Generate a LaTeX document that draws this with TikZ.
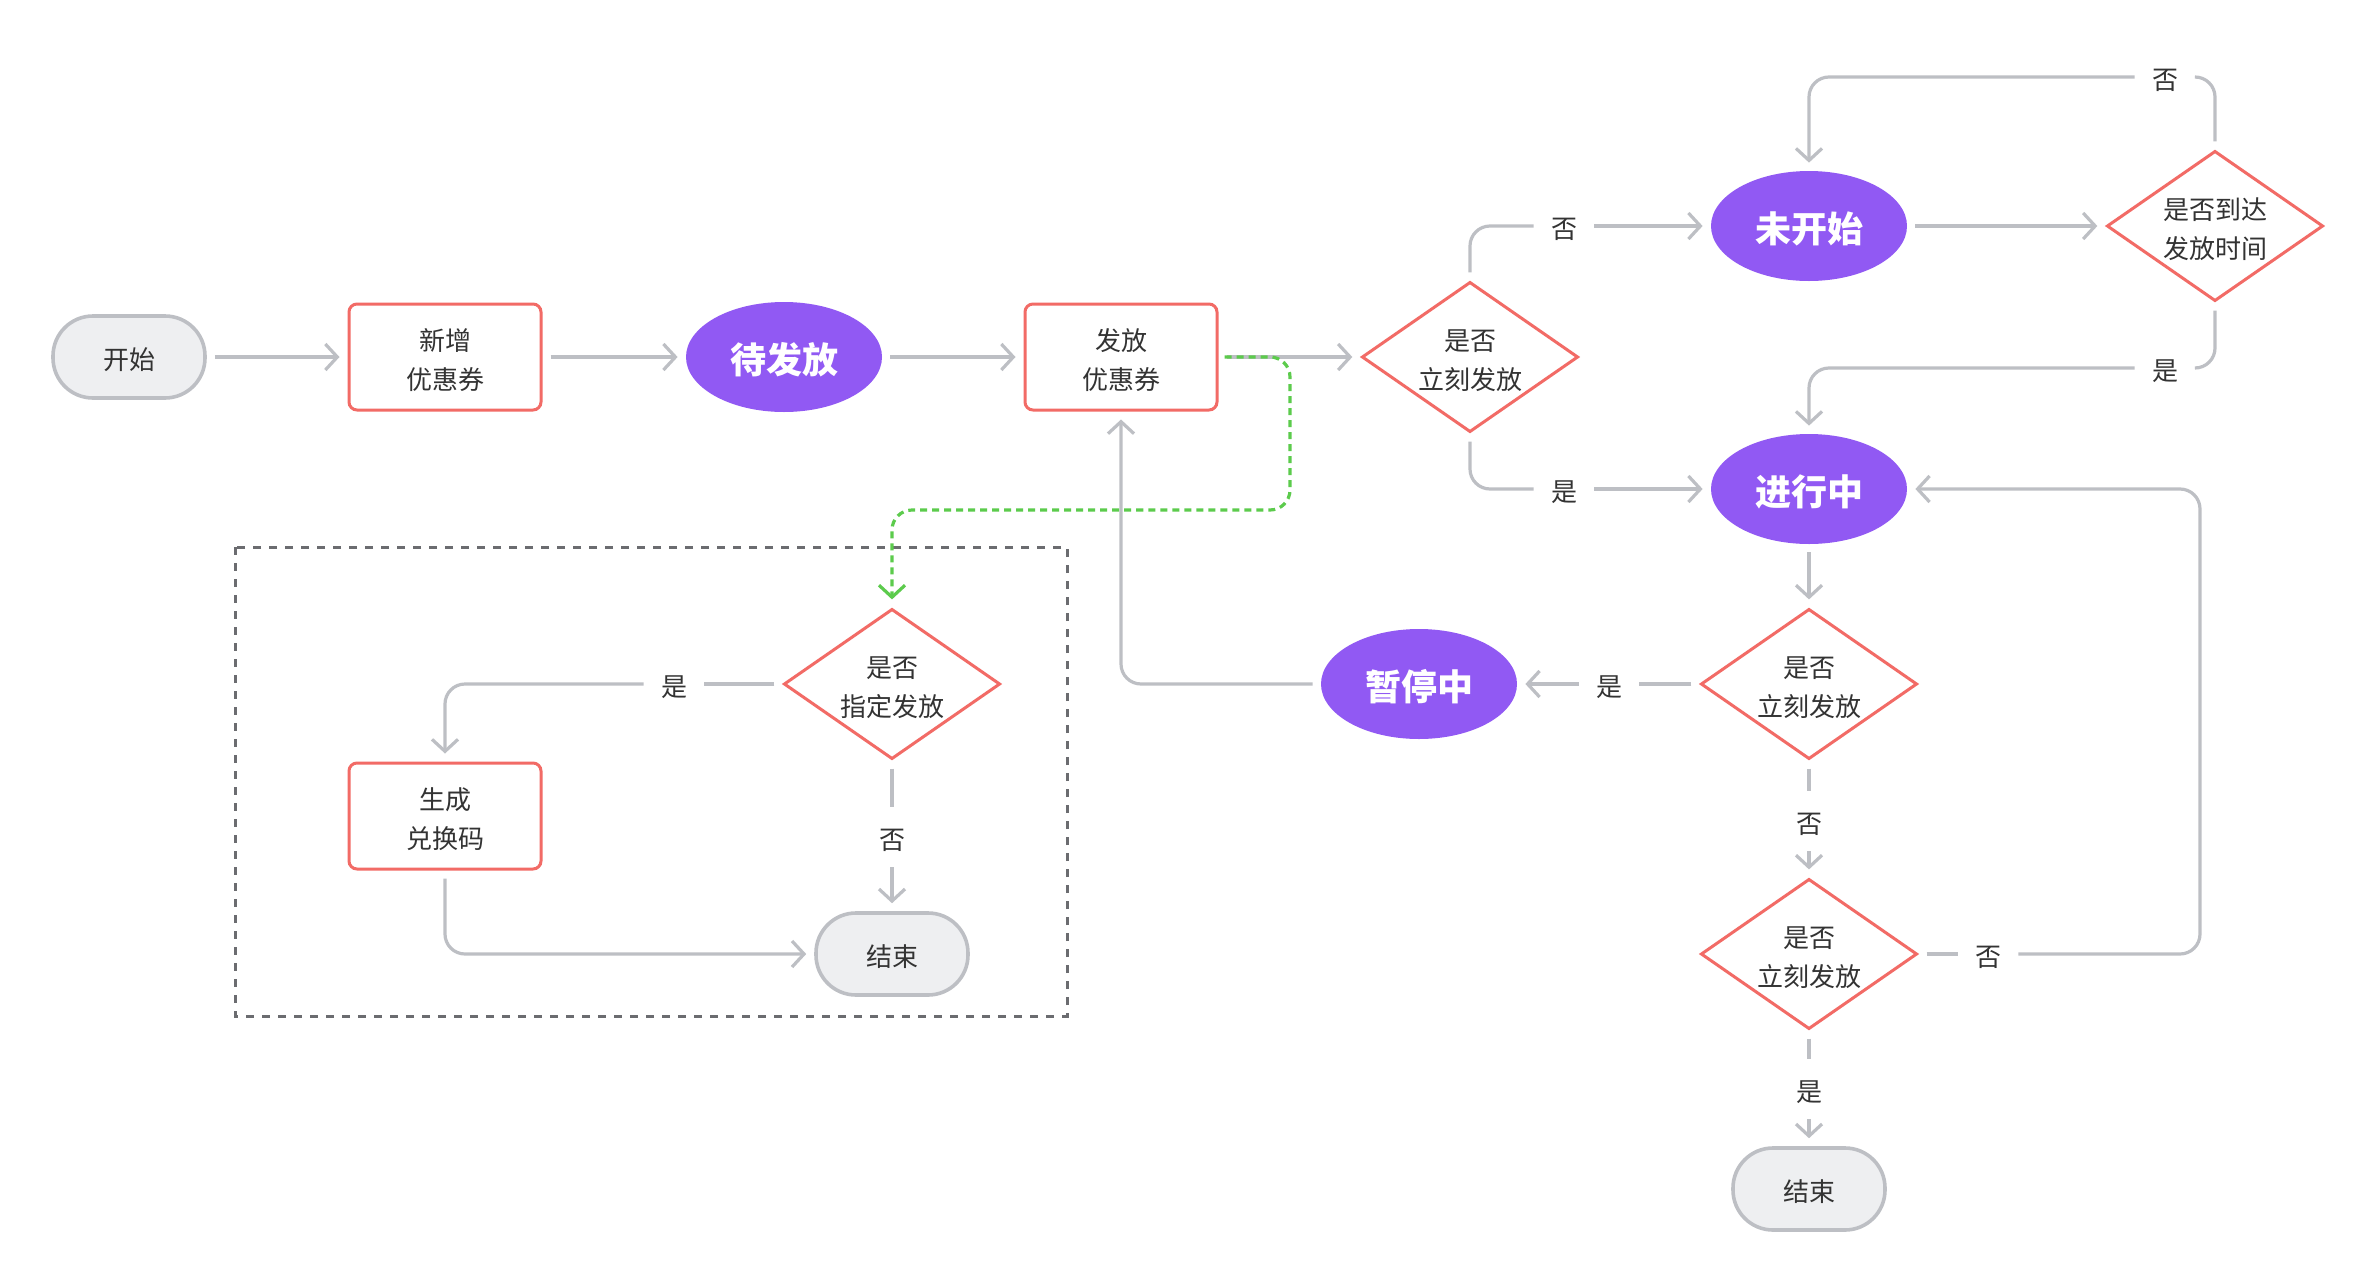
\documentclass[tikz,border=0pt]{standalone}
\usepackage{fontspec}
\newfontfamily\cjk{Noto Sans CJK SC}
\usetikzlibrary{shapes.geometric,arrows.meta}
\definecolor{lgray}{HTML}{BDBFC4}
\definecolor{redc}{HTML}{F26B66}
\definecolor{purp}{HTML}{9159F3}
\definecolor{sfill}{HTML}{EEEFF1}
\definecolor{txt}{HTML}{333333}
\definecolor{grn}{HTML}{5CCB4C}
\definecolor{boxc}{HTML}{6B6C70}
\newcommand\tx[1]{\raisebox{-2.5pt}[\height][\depth]{\begin{tabular}{@{}c@{}}#1\end{tabular}}}
\newcommand\bx[1]{\raisebox{-1.5pt}[\height][\depth]{#1}}
\begin{document}
\begin{tikzpicture}[x=0.5pt,y=-0.5pt,
 every node/.style={font=\cjk\fontsize{13}{19.5}\selectfont, text=txt, align=center},
 term/.style={rectangle, rounded corners=20pt, draw=lgray, line width=1.8pt, fill=sfill, minimum width=76pt, minimum height=41pt},
 proc/.style={rectangle, rounded corners=4pt, draw=redc, line width=1.5pt, fill=white, minimum width=96pt, minimum height=53pt},
 state/.style={ellipse, fill=purp, minimum width=98pt, minimum height=55pt, text=white, font=\cjk\bfseries\fontsize{18}{22}\selectfont},
 dec/.style={diamond, aspect=1.44, draw=redc, line width=1.5pt, fill=white, minimum width=108pt, minimum height=75pt, inner sep=0pt},
 lbl/.style={minimum width=22pt, minimum height=22pt, inner sep=0pt},
 conn/.style={draw=lgray, line width=1.6pt, rounded corners=10pt, shorten <=4pt, shorten >=4pt},
 arr/.style={conn, -{Straight Barb[length=6pt,width=13pt]}},
]
\useasboundingbox (0,0) rectangle (2374,1280);
\fill[white] (0,0) rectangle (2374,1280);

% group frame
\draw[boxc, line width=1.5pt, dash pattern=on 4pt off 4pt] (235,547) rectangle (1067,1016);

% nodes
\node[term] (start) at (129,357) {\tx{开始}};
\node[proc] (xz) at (445,357) {\tx{新增\\优惠券}};
\node[state] (dff) at (784,357) {\bx{待发放}};
\node[proc] (ff) at (1121,357) {\tx{发放\\优惠券}};
\node[dec] (d1) at (1470,357) {\tx{是否\\立刻发放}};
\node[state] (wks) at (1809,226) {\bx{未开始}};
\node[dec] (d2) at (2215,226) {\tx{是否到达\\发放时间}};
\node[state] (jxz) at (1809,489) {\bx{进行中}};
\node[dec] (d3) at (1809,684) {\tx{是否\\立刻发放}};
\node[state] (ztz) at (1419,684) {\bx{暂停中}};
\node[dec] (d4) at (1809,954) {\tx{是否\\立刻发放}};
\node[term] (end2) at (1809,1189) {\tx{结束}};
\node[dec] (d5) at (892,684) {\tx{是否\\指定发放}};
\node[proc] (sc) at (445,816) {\tx{生成\\兑换码}};
\node[term] (end1) at (892,954) {\tx{结束}};

% labels
\node[lbl] (l1n) at (1564,226) {\tx{否}};
\node[lbl] (l1y) at (1564,489) {\tx{是}};
\node[lbl] (l2n) at (2165,77) {\tx{否}};
\node[lbl] (l2y) at (2165,368) {\tx{是}};
\node[lbl] (l3y) at (1609,684) {\tx{是}};
\node[lbl] (l3n) at (1809,821) {\tx{否}};
\node[lbl] (l4n) at (1988,954) {\tx{否}};
\node[lbl] (l4y) at (1809,1089) {\tx{是}};
\node[lbl] (l5y) at (674,684) {\tx{是}};
\node[lbl] (l5n) at (892,837) {\tx{否}};

\coordinate (rt) at (2200,489);
\coordinate (g1) at (1290,510);

% main line
\draw[arr] (start) -- (xz);
\draw[arr] (xz) -- (dff);
\draw[arr] (dff) -- (ff);
\draw[arr] (ff) -- (d1);

% d1
\draw[conn] (d1.north) |- (l1n.west);
\draw[arr] (l1n.east) -- (wks.west);
\draw[conn] (d1.south) |- (l1y.west);
\draw[arr] (l1y.east) -- (jxz.west);

% d2
\draw[arr] (wks) -- (d2);
\draw[conn] (d2.north) |- (l2n.east);
\draw[arr] (l2n.west) -| (wks.north);
\draw[conn] (d2.south) |- (l2y.east);
\draw[arr] (l2y.west) -| (jxz.north);

% d3
\draw[arr] (jxz.south) -- (d3.north);
\draw[conn] (d3.west) -- (l3y.east);
\draw[arr] (l3y.west) -- (ztz.east);
\draw[arr] (ztz.west) -| (ff.south);
\draw[conn] (d3.south) -- (l3n.north);
\draw[arr] (l3n.south) -- (d4.north);

% d4
\draw[conn] (d4.east) -- (l4n.west);
\draw[arr] (l4n.east) -| (rt) -- (jxz.east);
\draw[conn] (d4.south) -- (l4y.north);
\draw[arr] (l4y.south) -- (end2.north);

% d5
\draw[conn] (d5.west) -- (l5y.east);
\draw[arr] (l5y.west) -| (sc.north);
\draw[conn] (d5.south) -- (l5n.north);
\draw[arr] (l5n.south) -- (end1.north);
\draw[arr] (sc.south) |- (end1.west);

% green dashed
\draw[grn, line width=1.6pt, dash pattern=on 3.5pt off 2.5pt, rounded corners=10pt, shorten <=3pt, shorten >=4pt, -{Straight Barb[length=6pt,width=13pt]}] (ff.east) -| (g1) -| (d5.north);
\end{tikzpicture}
\end{document}
